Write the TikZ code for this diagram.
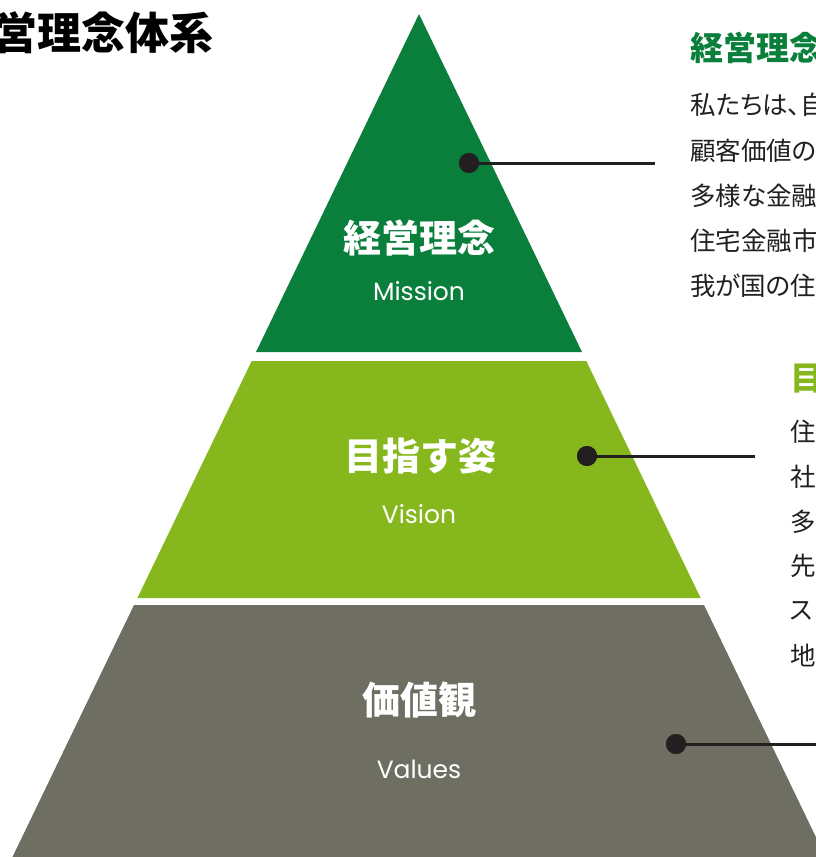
\documentclass[tikz,border=0pt]{standalone}
\usepackage{fontspec}
\setmainfont{Noto Sans CJK JP}
\newfontfamily\bodyfont{Noto Sans CJK JP}[RawFeature=+palt]
\newfontfamily\latinfont{Poppins}
\usepackage{xcolor}
\usepackage{tikz}
\usetikzlibrary{calc, positioning}

\definecolor{missiongreen}{HTML}{0A7F3C}
\definecolor{visiongreen}{HTML}{86B81E}
\definecolor{valuesgray}{HTML}{6E6F62}
\definecolor{inkgray}{HTML}{231F20}

\begin{document}
\begin{tikzpicture}[
        x=1pt,
        y=-1pt,
        line join=round,
        line cap=round,
        tiertitle/.style={text=white, inner sep=0pt,
            font=\bfseries\fontsize{38}{38}\selectfont},
        tiersub/.style={text=white, inner sep=0pt, anchor=base,
            font=\latinfont\fontsize{25}{25}\selectfont},
        dotmark/.style={circle, fill=inkgray, inner sep=0pt, minimum size=20pt},
        leader/.style={draw=inkgray, line width=3pt, line cap=butt},
        headtext/.style={anchor=west, inner sep=0pt,
            font=\bfseries\fontsize{33}{33}\selectfont},
        bodytext/.style={anchor=west, inner sep=0pt, text=inkgray,
            font=\bodyfont\fontsize{25.5}{25.5}\selectfont}
    ]

        \useasboundingbox (0,0) rectangle (816,857);
        \clip (0,0) rectangle (816,857);

        % =================================
        % CÁC TẦNG KIM TỰ THÁP
        % =================================
        \coordinate (apex) at (419,14);

        \coordinate (mL) at (256,352);
        \coordinate (mR) at (582,352);

        \coordinate (vTL) at (251.7,361);
        \coordinate (vTR) at (586.3,361);
        \coordinate (vBL) at (137.4,598);
        \coordinate (vBR) at (700.6,598);

        \coordinate (wTL) at (134,605);
        \coordinate (wTR) at (704,605);
        \coordinate (wBL) at (6.2,870);
        \coordinate (wBR) at (831.8,870);

        % tầng trên
        \fill[missiongreen] (apex) -- (mR) -- (mL) -- cycle;

        % tầng giữa
        \fill[visiongreen] (vTL) -- (vTR) -- (vBR) -- (vBL) -- cycle;

        % tầng dưới
        \fill[valuesgray] (wTL) -- (wTR) -- (wBR) -- (wBL) -- cycle;


        % =================================
        % NHÃN CÁC TẦNG
        % =================================
        \node[tiertitle] (missionJa) at (419,238) {経営理念};
        \node[tiersub] (missionEn) at (419,300) {Mission};

        \node[tiertitle] (visionJa) at (420,456) {目指す姿};
        \node[tiersub] (visionEn) at (419,523) {Vision};

        \node[tiertitle] (valuesJa) at (419,700) {価値観};
        \node[tiersub] (valuesEn) at (419,778) {Values};


        % =================================
        % ĐƯỜNG DẪN
        % =================================
        \node[dotmark] (missionDot) at (469,163) {};
        \coordinate (missionEnd) at (655,163);

        \node[dotmark] (visionDot) at (587,456) {};
        \coordinate (visionEnd) at (755,456);

        \node[dotmark] (valuesDot) at (676,744) {};
        \coordinate (valuesEnd) at (830,744);

        \draw[leader] (missionDot.center) -- (missionEnd);
        \draw[leader] (visionDot.center) -- (visionEnd);
        \draw[leader] (valuesDot.center) -- (valuesEnd);

        \node[dotmark] at (missionDot) {};
        \node[dotmark] at (visionDot) {};
        \node[dotmark] at (valuesDot) {};


        % =================================
        % TIÊU ĐỀ
        % =================================
        \node[anchor=west, inner sep=0pt,
            font=\bfseries\fontsize{44}{44}\selectfont] (title)
            at (-51,33) {経営理念体系};


        % =================================
        % CỘT CHỮ BÊN PHẢI
        % =================================
        \node[headtext, text=missiongreen] (missionHead) at (690,48) {経営理念};
        \node[bodytext] (mLine1) at (690,105) {私たちは、自};
        \node[bodytext] (mLine2) at (690,151) {顧客価値の};
        \node[bodytext] (mLine3) at (690,196) {多様な金融};
        \node[bodytext] (mLine4) at (690,241) {住宅金融市};
        \node[bodytext] (mLine5) at (690,286) {我が国の住};

        \node[headtext, text=visiongreen] (visionHead) at (790,378) {目指す姿};
        \node[bodytext] (vLine1) at (790,432) {住};
        \node[bodytext] (vLine2) at (790,477) {社};
        \node[bodytext] (vLine3) at (790,522) {多};
        \node[bodytext] (vLine4) at (790,566) {先};
        \node[bodytext] (vLine5) at (790,611) {ス};
        \node[bodytext] (vLine6) at (790,656) {地};

    \end{tikzpicture}
\end{document}
